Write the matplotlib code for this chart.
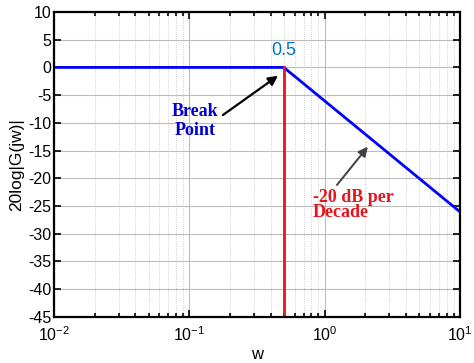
import numpy as np
import matplotlib.pyplot as plt
from matplotlib.ticker import LogLocator, NullFormatter

plt.rcParams['font.family'] = ['Liberation Sans', 'DejaVu Sans']
plt.rcParams['axes.unicode_minus'] = False

# Bode magnitude asymptote data
w_pts = [0.01, 0.5, 10]
mag_pts = [0, 0, -26.02]
break_w = 0.5
ylim = (-45, 10)
yticks = list(range(-45, 11, 5))

fig = plt.figure(figsize=(4.74, 3.63), dpi=100)
ax = fig.add_axes([0.114, 0.127, 0.856, 0.840])

ax.semilogx(w_pts, mag_pts, color='#0000ff', lw=2)
ax.plot([break_w, break_w], [ylim[0], 0], color='#e8141c', lw=2)

ax.set_xlim(0.01, 10)
ax.set_ylim(*ylim)
ax.set_yticks(yticks)
ax.xaxis.set_minor_locator(LogLocator(base=10, subs=np.arange(2, 10)))
ax.xaxis.set_minor_formatter(NullFormatter())

ax.grid(True, which='major', color='#bcbcbc', lw=0.8)
ax.grid(True, which='minor', axis='x', color='#c0c0c0', lw=0.6, ls=':')
ax.tick_params(which='both', direction='in', top=True, right=True,
               labelsize=11.5, width=1.2)
ax.tick_params(which='major', length=5)
ax.tick_params(which='minor', length=3)
ax.tick_params(axis='y', pad=2)
ax.tick_params(axis='x', pad=6)
for s in ax.spines.values():
    s.set_linewidth(1.6)

ax.set_xlabel('w', fontsize=12, labelpad=2)
ax.set_ylabel('20log|G(jw)|', fontsize=12.5, labelpad=3)

# annotations
ax.text(0.5, 3.0, '0.5', color='#0072bd', fontsize=13, ha='center', va='center')
ax.annotate('', xy=(0.453, -1.5), xytext=(0.177, -8.6),
            arrowprops=dict(arrowstyle='-|>', color='black', lw=1.6,
                            mutation_scale=14, shrinkA=0, shrinkB=0))
ax.text(0.11, -9.7, 'Break\nPoint', color='#0000cc', fontsize=13,
        fontweight='bold', family='Liberation Serif', ha='center',
        va='center', linespacing=1.15)
ax.annotate('', xy=(2.09, -14.3), xytext=(1.236, -21.2),
            arrowprops=dict(arrowstyle='-|>', color='#404040', lw=1.4,
                            mutation_scale=14, shrinkA=0, shrinkB=0))
ax.text(0.82, -24.8, '-20 dB per\nDecade', color='#e8141c', fontsize=13,
        fontweight='bold', family='Liberation Serif', ha='left',
        va='center', linespacing=0.9)

fig.savefig('out.png', dpi=100)
